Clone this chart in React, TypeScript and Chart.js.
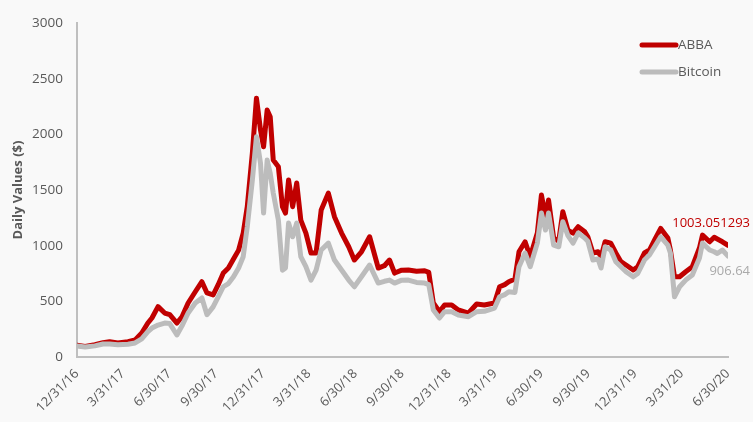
import { useEffect, useRef } from "react";
import { Chart, registerables } from "chart.js";

Chart.register(...registerables);

const dates: string[] = [
  "2016-12-31", "2017-01-16", "2017-02-04", "2017-02-20", "2017-03-05", "2017-03-21", "2017-04-10", "2017-04-24",
  "2017-05-07", "2017-05-19", "2017-05-27", "2017-06-08", "2017-06-21", "2017-07-01", "2017-07-15", "2017-07-25",
  "2017-08-06", "2017-08-20", "2017-09-02", "2017-09-12", "2017-09-24", "2017-10-04", "2017-10-14", "2017-10-24",
  "2017-11-03", "2017-11-13", "2017-11-22", "2017-11-30", "2017-12-10", "2017-12-18", "2017-12-26", "2018-01-01",
  "2018-01-08", "2018-01-14", "2018-01-20", "2018-01-30", "2018-02-07", "2018-02-13", "2018-02-19", "2018-02-27",
  "2018-03-07", "2018-03-15", "2018-03-25", "2018-04-04", "2018-04-14", "2018-04-24", "2018-05-08", "2018-05-20",
  "2018-06-03", "2018-06-17", "2018-06-28", "2018-07-12", "2018-07-28", "2018-08-14", "2018-08-26", "2018-09-05",
  "2018-09-15", "2018-09-29", "2018-10-12", "2018-10-28", "2018-11-13", "2018-11-21", "2018-11-30", "2018-12-12",
  "2018-12-22", "2019-01-05", "2019-01-18", "2019-02-07", "2019-02-23", "2019-03-10", "2019-03-30", "2019-04-09",
  "2019-04-19", "2019-04-27", "2019-05-09", "2019-05-17", "2019-05-29", "2019-06-08", "2019-06-22", "2019-06-30",
  "2019-07-08", "2019-07-14", "2019-07-24", "2019-08-03", "2019-08-11", "2019-08-21", "2019-08-31", "2019-09-10",
  "2019-09-23", "2019-09-29", "2019-10-09", "2019-10-19", "2019-10-25", "2019-11-02", "2019-11-13", "2019-11-23",
  "2019-12-03", "2019-12-13", "2019-12-27", "2020-01-05", "2020-01-18", "2020-01-28", "2020-02-07", "2020-02-19",
  "2020-03-04", "2020-03-09", "2020-03-17", "2020-03-27", "2020-04-08", "2020-04-21", "2020-05-05", "2020-05-11",
  "2020-05-25", "2020-06-03", "2020-06-09", "2020-06-19", "2020-06-30",
];

const abbaValues: number[] = [
  105, 95, 110, 128, 137, 126, 137, 153,
  215, 305, 350, 452, 395, 380, 305, 362,
  485, 586, 676, 575, 557, 650, 754, 800,
  880, 960, 1113, 1350, 1832, 2325, 2038, 1888,
  2218, 2158, 1769, 1709, 1350, 1293, 1590, 1350,
  1563, 1230, 1113, 934, 934, 1320, 1472, 1260,
  1113, 990, 871, 945, 1080, 799, 820, 871,
  754, 780, 781, 770, 775, 760, 485, 407,
  467, 467, 422, 395, 476, 467, 485, 631,
  650, 676, 700, 945, 1035, 901, 1113, 1455,
  1260, 1410, 1068, 1040, 1305, 1140, 1113, 1170,
  1125, 1080, 934, 945, 901, 1035, 1023, 934,
  856, 826, 781, 811, 934, 961, 1051, 1155,
  1068, 961, 721, 721, 766, 811, 979, 1095,
  1035, 1075, 1060, 1035, 1003.051293,
];

const bitcoinValues: number[] = [
  100, 90, 100, 117, 117, 110, 115, 126,
  162, 227, 260, 287, 305, 300, 198, 280,
  395, 485, 530, 380, 450, 540, 631, 660,
  720, 800, 901, 1170, 1590, 1978, 1740, 1293,
  1769, 1650, 1472, 1230, 780, 800, 1203, 1080,
  1203, 901, 811, 691, 780, 961, 1023, 871,
  781, 691, 631, 721, 826, 664, 680, 691,
  664, 690, 691, 670, 664, 650, 422, 350,
  407, 407, 377, 362, 407, 410, 440, 541,
  560, 586, 580, 811, 934, 811, 1023, 1293,
  1140, 1293, 1005, 990, 1215, 1090, 1023, 1113,
  1068, 1040, 871, 880, 799, 990, 961, 856,
  811, 766, 720, 750, 871, 916, 990, 1080,
  1005, 934, 541, 631, 691, 736, 889, 1023,
  961, 945, 930, 961, 906.64,
];

const xTickDates: string[] = [
  "2016-12-31", "2017-03-31", "2017-06-30", "2017-09-30", "2017-12-31",
  "2018-03-31", "2018-06-30", "2018-09-30", "2018-12-31", "2019-03-31",
  "2019-06-30", "2019-09-30", "2019-12-31", "2020-03-31", "2020-06-30",
];

const yTickValues: number[] = [0, 500, 1000, 1500, 2000, 2500, 3000];

const seriesNames: string[] = ["ABBA", "Bitcoin"];

const START = Date.UTC(2016, 11, 31);
const toDay = (s: string) => {
  const [y, m, d] = s.split("-").map(Number);
  return Math.round((Date.UTC(y, m - 1, d) - START) / 86400000);
};
const fmtDate = (s: string) => {
  const [y, m, d] = s.split("-");
  return `${Number(m)}/${Number(d)}/${y.slice(2)}`;
};

const RED = "#c00000";
const GRAY = "#bcbcbc";
const TEXT = "#595959";
const BG = "#f9f9f9";
const FONT = "'Open Sans', 'Liberation Sans', sans-serif";

export default function App() {
  const ref = useRef<HTMLCanvasElement | null>(null);

  useEffect(() => {
    document.body.style.margin = "0";
    document.body.style.background = BG;
    if (!ref.current) return;

    const days = dates.map(toDay);
    const tickMap = new Map<number, string>();
    xTickDates.forEach((d) => tickMap.set(toDay(d), fmtDate(d)));

    const overlay = {
      id: "overlay",
      afterDatasetsDraw(chart: any) {
        const ctx = chart.ctx as CanvasRenderingContext2D;
        ctx.save();
        const mA = chart.getDatasetMeta(0);
        const mB = chart.getDatasetMeta(1);
        const pA = mA.data[mA.data.length - 1];
        const pB = mB.data[mB.data.length - 1];
        ctx.font = `13px ${FONT}`;
        ctx.textAlign = "right";
        ctx.textBaseline = "middle";
        ctx.fillStyle = RED;
        ctx.fillText(String(abbaValues[abbaValues.length - 1]), pA.x + 22, pA.y - 22);
        ctx.fillStyle = "#aaaaaa";
        ctx.fillText(String(bitcoinValues[bitcoinValues.length - 1]), pB.x + 22, pB.y + 15);

        const items = [
          { name: seriesNames[0], color: RED, y: 45 },
          { name: seriesNames[1], color: GRAY, y: 72 },
        ];
        ctx.textAlign = "left";
        ctx.font = `13.5px ${FONT}`;
        items.forEach((it) => {
          ctx.strokeStyle = it.color;
          ctx.lineWidth = 5;
          ctx.lineCap = "round";
          ctx.beginPath();
          ctx.moveTo(642, it.y);
          ctx.lineTo(676, it.y);
          ctx.stroke();
          ctx.fillStyle = TEXT;
          ctx.fillText(it.name, 678, it.y);
        });
        ctx.restore();
      },
    };

    const chart = new Chart(ref.current, {
      type: "line",
      data: {
        datasets: [
          {
            label: seriesNames[0],
            data: days.map((x, i) => ({ x, y: abbaValues[i] })),
            borderColor: RED,
            backgroundColor: RED,
            borderWidth: 5,
            pointRadius: 0,
            tension: 0,
            borderJoinStyle: "round",
            borderCapStyle: "round",
            order: 1,
          },
          {
            label: seriesNames[1],
            data: days.map((x, i) => ({ x, y: bitcoinValues[i] })),
            borderColor: GRAY,
            backgroundColor: GRAY,
            borderWidth: 5,
            pointRadius: 0,
            tension: 0,
            borderJoinStyle: "round",
            borderCapStyle: "round",
            order: 0,
          },
        ],
      },
      options: {
        animation: false,
        responsive: true,
        maintainAspectRatio: false,
        layout: { padding: { top: 23, right: 25, left: 0, bottom: 0 } },
        plugins: {
          legend: { display: false },
          tooltip: { enabled: false },
        },
        scales: {
          x: {
            type: "linear",
            min: 0,
            max: toDay("2020-06-30"),
            afterBuildTicks: (s: any) => {
              s.ticks = xTickDates.map((d) => ({ value: toDay(d) }));
            },
            afterFit: (s: any) => {
              s.height = 65;
            },
            ticks: {
              autoSkip: false,
              minRotation: 45,
              maxRotation: 45,
              padding: 9,
              color: TEXT,
              font: { family: FONT, size: 13 },
              callback: (v: any) => tickMap.get(Number(v)) ?? "",
            },
            grid: { display: false, drawTicks: false },
            border: { display: true, color: "#bfbfbf", width: 2 },
          },
          y: {
            min: 0,
            max: 3000,
            afterBuildTicks: (s: any) => {
              s.ticks = yTickValues.map((v) => ({ value: v }));
            },
            afterFit: (s: any) => {
              s.width = 77;
            },
            ticks: {
              padding: 14,
              color: TEXT,
              font: { family: FONT, size: 13.5 },
              callback: (v: any) => String(v),
            },
            grid: { display: false, drawTicks: false },
            border: { display: true, color: "#bfbfbf", width: 2 },
            title: {
              display: true,
              text: "Daily Values ($)",
              color: TEXT,
              font: { family: FONT, size: 13, weight: "bold" },
              padding: { top: 10, bottom: 0 },
            },
          },
        },
      },
      plugins: [overlay],
    });

    return () => chart.destroy();
  }, []);

  return (
    <div style={{ width: 753, height: 422, background: BG, position: "relative" }}>
      <canvas ref={ref} />
    </div>
  );
}
